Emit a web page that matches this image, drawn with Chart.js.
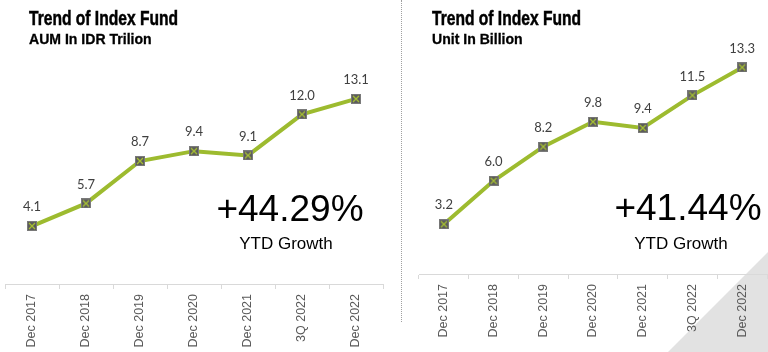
<!DOCTYPE html>
<html>
<head>
<meta charset="utf-8">
<script src="https://cdn.jsdelivr.net/npm/chart.js@4.4.0/dist/chart.umd.min.js"></script>
<style>
  html, body { margin: 0; padding: 0; background: #fff; }
  body { width: 768px; height: 352px; position: relative; overflow: hidden; }
  .box { position: absolute; top: 0; height: 352px; }
  .title { position: absolute; font-family: "Liberation Sans", Arial, sans-serif; font-weight: bold; color: #000;
    white-space: nowrap; line-height: 1; transform-origin: 0 0; -webkit-text-stroke: 0.5px #000; }
  .t1 { font-size: 20px; top: 8px; transform: scaleX(0.78); }
  .t2 { font-size: 14.5px; top: 32px; transform: scaleX(0.97); -webkit-text-stroke: 0.3px #000; }
  .big { position: absolute; font-family: "Liberation Sans", Arial, sans-serif; color: #000; text-align: center; white-space: nowrap; }
  .pct { font-size: 37px; width: 200px; }
  .ytd { font-size: 17px; width: 200px; }
  #divider { position: absolute; left: 401px; top: 0; height: 322px; border-left: 1px dotted #a0a0a0; }
  #corner { position: absolute; left: 0; top: 0; width: 768px; height: 352px;
    clip-path: polygon(668px 352px, 768px 252px, 768px 352px);
    background: linear-gradient(315deg, #e2e2e2 82%, #ececec 88%, #f4f4f4 92%); }
</style>
</head>
<body>
<div id="corner"></div>
<div id="divider"></div>

<div class="box" style="left:0;width:392px"><canvas id="aum"></canvas></div>
<div class="box" style="left:396px;width:372px"><canvas id="unit"></canvas></div>

<div class="title t1" style="left:29px">Trend of Index Fund</div>
<div class="title t2" style="left:29px">AUM In IDR Trilion</div>
<div class="title t1" style="left:432px">Trend of Index Fund</div>
<div class="title t2" style="left:432px">Unit In Billion</div>

<div class="big pct" style="left:190px;top:188px">+44.29%</div>
<div class="big ytd" style="left:186px;top:234px">YTD Growth</div>
<div class="big pct" style="left:588px;top:187px">+41.44%</div>
<div class="big ytd" style="left:581px;top:234px">YTD Growth</div>

<script>
// data
const periods = ["Dec 2017", "Dec 2018", "Dec 2019", "Dec 2020", "Dec 2021", "3Q 2022", "Dec 2022"];
const aumValues = [4.1, 5.7, 8.7, 9.4, 9.1, 12.0, 13.1];
const unitValues = [3.2, 6.0, 8.2, 9.8, 9.4, 11.5, 13.3];

const lineGreen = "#9dbb2f";

// square marker with a green cross
function makeMarker() {
  const c = document.createElement("canvas");
  c.width = 10; c.height = 10;
  const g = c.getContext("2d");
  g.fillStyle = "#5b5b5b";
  g.fillRect(0, 0, 10, 10);
  g.strokeStyle = "#7a7a7a";
  g.lineWidth = 1;
  g.strokeRect(0.5, 0.5, 9, 9);
  g.strokeStyle = "#a8c232";
  g.lineWidth = 1.3;
  g.beginPath();
  g.moveTo(2, 2); g.lineTo(8, 8);
  g.moveTo(8, 2); g.lineTo(2, 8);
  g.stroke();
  return c;
}
const marker = makeMarker();

// value labels above points
const valueLabels = {
  id: "valueLabels",
  afterDatasetsDraw(chart) {
    const ctx = chart.ctx;
    const ds = chart.data.datasets[0];
    const meta = chart.getDatasetMeta(0);
    ctx.save();
    ctx.font = "13px Lato, sans-serif";
    ctx.fillStyle = "#404040";
    ctx.textAlign = "center";
    ctx.textBaseline = "middle";
    meta.data.forEach((pt, i) => {
      ctx.fillText(ds.data[i].toFixed(1), pt.x, pt.y - 19);
    });
    ctx.restore();
  }
};

function makeChart(id, values, pad, axisHeight) {
  return new Chart(document.getElementById(id), {
    type: "line",
    data: {
      labels: periods,
      datasets: [{
        data: values,
        borderColor: lineGreen,
        borderWidth: 4,
        pointStyle: marker,
        pointRadius: 5,
        tension: 0,
        fill: false
      }]
    },
    options: {
      responsive: true,
      maintainAspectRatio: false,
      animation: false,
      layout: { padding: pad, autoPadding: false },
      plugins: { legend: { display: false }, tooltip: { enabled: false } },
      scales: {
        x: {
          offset: true,
          grid: { offset: true, drawOnChartArea: false, drawTicks: true, tickLength: 5, color: "#d9d9d9" },
          border: { display: true, color: "#d9d9d9", width: 1 },
          ticks: {
            minRotation: 90, maxRotation: 90, padding: 5,
            color: "#595959",
            font: { family: "Liberation Sans, Arial, sans-serif", size: 12.5 }
          },
          afterFit: s => { s.height = axisHeight; }
        },
        y: { display: false, min: 0, max: 15 }
      }
    },
    plugins: [valueLabels]
  });
}

makeChart("aum", aumValues, { left: 5, right: 9, top: 72, bottom: 0 }, 68);
makeChart("unit", unitValues, { left: 23, right: 1, top: 41, bottom: 0 }, 78);
</script>
</body>
</html>
